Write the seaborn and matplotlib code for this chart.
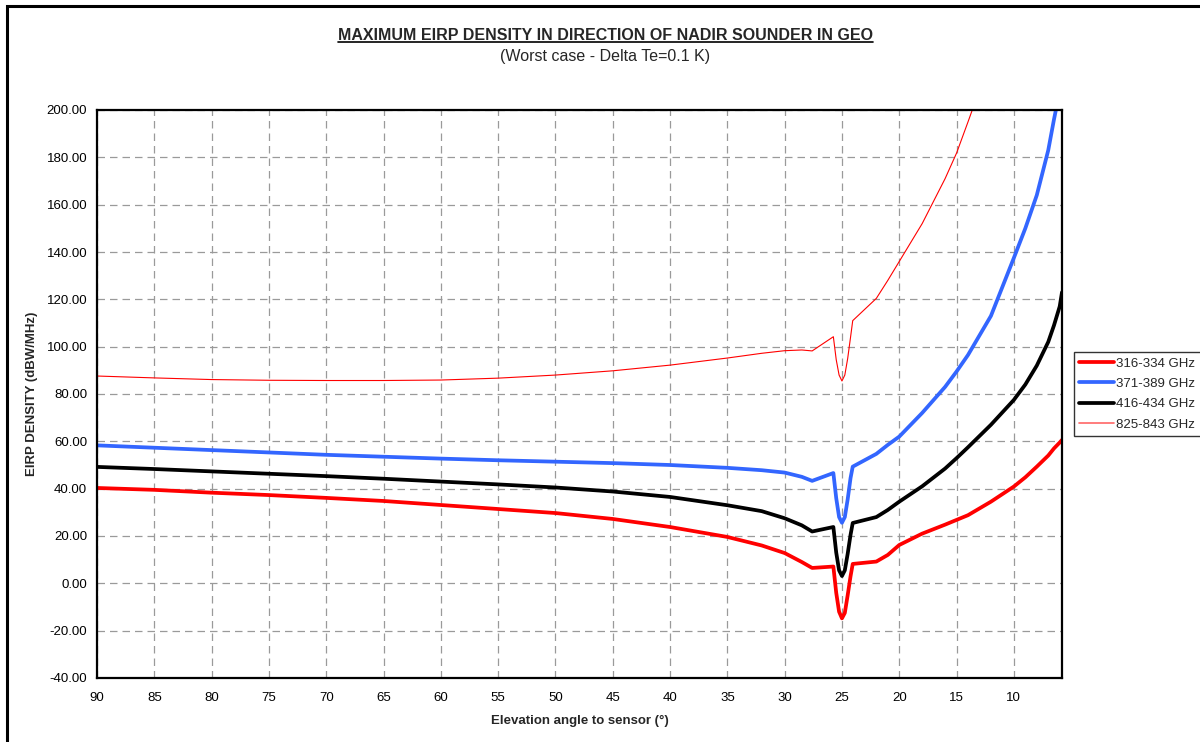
import matplotlib
matplotlib.use("Agg")
import matplotlib.pyplot as plt
import seaborn as sns
import pandas as pd
from matplotlib.patches import Rectangle
from matplotlib.lines import Line2D

# ---- data ----
elevation = [90, 85, 80, 75, 70, 65, 60, 55, 50, 45, 40, 35, 32, 30, 28.5, 27.6,
             25.75, 25.5, 25.25, 25.0, 24.75, 24.5, 24.25, 24.06,
             22, 21, 20, 18, 16, 15, 14, 12, 10, 9, 8, 7, 6.5, 6, 5.8]

eirp_316_334 = [40.3, 39.5, 38.3, 37.3, 36.1, 34.8, 33.1, 31.4, 29.7, 27.2, 23.8, 19.6, 16.0, 12.8, 9.0, 6.5,
                7.1, -4.0, -12.0, -14.8, -12.5, -5.0, 3.0, 8.2,
                9.2, 12.0, 16.2, 21.0, 24.8, 26.8, 28.8, 34.5, 40.9, 44.8, 49.3, 54.0, 57.0, 59.5, 60.6]

eirp_371_389 = [58.3, 57.3, 56.3, 55.3, 54.3, 53.5, 52.7, 52.0, 51.4, 50.8, 50.0, 48.8, 47.8, 46.8, 45.0, 43.3,
                46.6, 36.0, 28.0, 25.6, 28.0, 35.5, 44.5, 49.3,
                54.7, 58.5, 62.0, 72.0, 83.0, 89.5, 96.5, 113.0, 137.5, 150.0, 164.0, 183.0, 196.0, 208.0, 213.0]

eirp_416_434 = [49.2, 48.3, 47.3, 46.3, 45.3, 44.2, 43.0, 41.8, 40.5, 38.8, 36.5, 33.0, 30.5, 27.5, 24.5, 21.9,
                23.8, 13.0, 5.5, 3.1, 5.5, 12.5, 20.5, 25.5,
                28.0, 31.0, 34.5, 41.0, 48.5, 52.9, 57.5, 67.0, 77.5, 84.0, 92.0, 102.0, 109.0, 117.0, 123.0]

eirp_825_843 = [87.6, 86.8, 86.1, 85.8, 85.7, 85.7, 85.9, 86.7, 88.0, 89.8, 92.2, 95.2, 97.2, 98.3, 98.6, 98.2,
                104.2, 94.5, 88.0, 85.5, 88.0, 95.0, 104.0, 111.0,
                120.4, 128.0, 136.0, 152.0, 171.0, 181.8, 195.0, 222.0, 255.0, 275.0, 298.0, 325.0, 340.0, 355.0, 362.0]

series_labels = ["316-334 GHz", "371-389 GHz", "416-434 GHz", "825-843 GHz"]
series_values = [eirp_316_334, eirp_371_389, eirp_416_434, eirp_825_843]
series_colors = ["#FF0000", "#3366FF", "#000000", "#FF0000"]
series_widths = [2.7, 2.7, 2.7, 0.8]

x_ticks = [90, 85, 80, 75, 70, 65, 60, 55, 50, 45, 40, 35, 30, 25, 20, 15, 10]
y_ticks = [-40, -20, 0, 20, 40, 60, 80, 100, 120, 140, 160, 180, 200]

title = "MAXIMUM EIRP DENSITY IN DIRECTION OF NADIR SOUNDER IN GEO"
subtitle = "(Worst case - Delta Te=0.1 K)"
x_label = "Elevation angle to sensor (°)"
y_label = "EIRP DENSITY (dBW/MHz)"

# ---- style ----
sns.set_style("white")
plt.rcParams['font.family'] = ['Liberation Sans', 'DejaVu Sans']

W, H = 1200, 742
fig = plt.figure(figsize=(W / 100, H / 100), dpi=100)
ax = fig.add_axes([97 / W, 1 - 678 / H, (1062 - 97) / W, (678 - 110) / H])

for lab, vals, col, lw in zip(series_labels, series_values, series_colors, series_widths):
    df = pd.DataFrame({"elev": elevation, "eirp": vals})
    sns.lineplot(data=df, x="elev", y="eirp", color=col, linewidth=lw, ax=ax,
                 label=lab, sort=False, estimator=None)

ax.set_xlim(90, 5.8)
ax.set_ylim(-40, 200)
ax.set_xticks(x_ticks)
ax.set_xticklabels([str(t) for t in x_ticks])
ax.set_yticks(y_ticks)
ax.set_yticklabels([f"{t:.2f}" for t in y_ticks])
ax.tick_params(axis='both', direction='out', length=4, width=1.2, labelsize=9.5,
               colors='black', pad=3)
ax.tick_params(axis='x', pad=6)
ax.grid(True, color='#9a9a9a', linestyle=(0, (6, 4)), linewidth=0.9)
for s in ax.spines.values():
    s.set_visible(True)
    s.set_color('black')
    s.set_linewidth(1.6)

ax.set_xlabel(x_label, fontsize=9.5, fontweight='bold', labelpad=8)
ax.set_ylabel(y_label, fontsize=9.5, fontweight='bold', labelpad=6)

leg = ax.legend(loc='upper left', bbox_to_anchor=(1074 / W, 1 - 352 / H),
                bbox_transform=fig.transFigure, frameon=True, fancybox=False,
                fontsize=9.5, handlelength=2.6, handletextpad=0.2,
                labelspacing=0.62, borderpad=0.4, borderaxespad=0)
leg.get_frame().set_edgecolor('black')
leg.get_frame().set_linewidth(1.0)
for h in leg.get_lines():
    h.set_linewidth(2.7)
leg.get_lines()[3].set_linewidth(1.2)
leg.get_lines()[3].set_color('#FF6666')

# titles
t = fig.text(605 / W, 1 - 35 / H, title, ha='center', va='center',
             fontsize=11.5, fontweight='bold')
fig.text(605 / W, 1 - 57 / H, subtitle, ha='center', va='center', fontsize=11.5)

# underline the title
fig.canvas.draw()
bb = t.get_window_extent(renderer=fig.canvas.get_renderer())
inv = fig.transFigure.inverted()
(x0, y0), (x1, _) = inv.transform([(bb.x0, bb.y0 + 1), (bb.x1, bb.y0 + 1)])
fig.add_artist(Line2D([x0, x1], [y0, y0], transform=fig.transFigure,
                      color='black', linewidth=1.2))

# outer frame of the chart area
fig.add_artist(Rectangle((7 / W, -0.05), 1.1, 1 - 6 / H + 0.05,
                         transform=fig.transFigure, fill=False,
                         edgecolor='black', linewidth=2.2))

fig.savefig("out.png", dpi=100)
